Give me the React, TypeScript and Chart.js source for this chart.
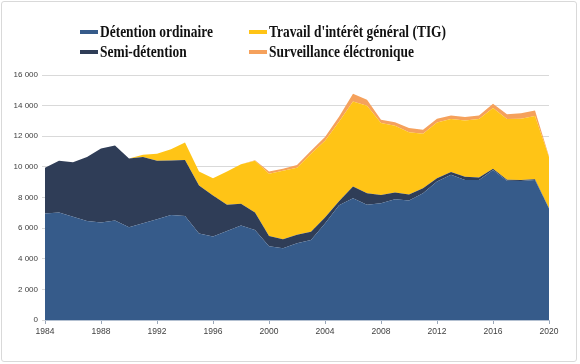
import React, { useEffect, useRef } from 'react';
import { Chart, registerables } from 'chart.js';

Chart.register(...registerables);

const years = [
  1984, 1985, 1986, 1987, 1988, 1989, 1990, 1991, 1992, 1993, 1994, 1995, 1996,
  1997, 1998, 1999, 2000, 2001, 2002, 2003, 2004, 2005, 2006, 2007, 2008, 2009,
  2010, 2011, 2012, 2013, 2014, 2015, 2016, 2017, 2018, 2019, 2020,
];

const detentionOrdinaire = [
  6950, 7015, 6750, 6470, 6360, 6490, 6060, 6320, 6580, 6850, 6800, 5650, 5450,
  5820, 6170, 5880, 4820, 4680, 5010, 5230, 6300, 7500, 7950, 7520, 7630, 7890,
  7800, 8280, 9040, 9480, 9150, 9150, 9800, 9100, 9080, 9150, 7280,
];

const semiDetention = [
  3000, 3390, 3550, 4180, 4840, 4910, 4490, 4330, 3820, 3570, 3650, 3130, 2680,
  1700, 1430, 1140, 670, 590, 550, 540, 400, 250, 770, 760, 540, 430,
  400, 330, 220, 180, 200, 150, 80, 60, 60, 50, 20,
];

const travailInteretGeneral = [
  0, 0, 0, 0, 0, 0, 0, 150, 450, 730, 1150, 920, 1120,
  2180, 2570, 3380, 4060, 4480, 4390, 5080, 5000, 5200, 5550, 5710, 4690, 4360,
  4060, 3550, 3640, 3460, 3680, 3820, 3960, 3960, 4000, 4130, 3350,
];

const surveillanceElectronique = [
  0, 0, 0, 0, 0, 0, 0, 0, 0, 0, 0, 0, 0,
  0, 0, 30, 150, 130, 170, 200, 250, 330, 500, 390, 210, 240,
  280, 260, 240, 230, 220, 230, 280, 320, 370, 350, 50,
];

const seriesNames = [
  'Détention ordinaire',
  'Semi-détention',
  "Travail d'intérêt général (TIG)",
  'Surveillance éléctronique',
];
const seriesColors = ['#365b8a', '#2f3d57', '#ffc416', '#f5a15c'];

const fmt = (v: number) => String(v).replace(/\B(?=(\d{3})+(?!\d))/g, ' ');

export default function App() {
  const ref = useRef<HTMLCanvasElement>(null);

  useEffect(() => {
    document.body.style.margin = '0';
    const seriesData = [
      detentionOrdinaire,
      semiDetention,
      travailInteretGeneral,
      surveillanceElectronique,
    ];
    const chart = new Chart(ref.current!, {
      type: 'line',
      data: {
        labels: years.map(String),
        datasets: seriesData.map((d, i) => ({
          label: seriesNames[i],
          data: d,
          backgroundColor: seriesColors[i],
          borderColor: seriesColors[i],
          borderWidth: 0,
          pointRadius: 0,
          fill: i === 0 ? 'origin' : '-1',
          tension: 0,
        })),
      },
      options: {
        responsive: false,
        animation: false,
        layout: { padding: { left: 0, right: 31, top: 75, bottom: 20 } },
        plugins: { legend: { display: false }, tooltip: { enabled: false } },
        scales: {
          x: {
            stacked: true,
            offset: false,
            afterFit: (s: any) => {
              s.height = 24;
            },
            border: { display: true, color: '#b3c0d1', width: 1 },
            grid: {
              drawOnChartArea: false,
              drawTicks: true,
              tickLength: 4,
              color: (ctx: any) =>
                (years[ctx.index] - 1984) % 4 === 0 ? '#9aa7b8' : 'rgba(0,0,0,0)',
            },
            ticks: {
              autoSkip: false,
              maxRotation: 0,
              padding: 3,
              color: '#404040',
              font: { family: 'Liberation Sans', size: 8.5 },
              callback: (_v: any, idx: number) =>
                (years[idx] - 1984) % 4 === 0 ? String(years[idx]) : '',
            },
          },
          y: {
            stacked: true,
            min: 0,
            max: 16000,
            afterFit: (s: any) => {
              s.width = 45;
            },
            border: { display: false },
            grid: { color: '#d9d9d9', tickLength: 3, lineWidth: 1 },
            ticks: {
              stepSize: 2000,
              padding: 4,
              color: '#404040',
              font: { family: 'Liberation Sans', size: 8 },
              callback: (v: any) => fmt(Number(v)),
            },
          },
        },
      },
    });
    return () => chart.destroy();
  }, []);

  const legendItems = [
    { i: 0, x: 80, y: 32 },
    { i: 2, x: 249, y: 32 },
    { i: 1, x: 80, y: 52 },
    { i: 3, x: 249, y: 52 },
  ];

  return (
    <div style={{ position: 'relative', width: 580, height: 364, background: '#fff', overflow: 'hidden' }}>
      <canvas
        ref={ref}
        width={580}
        height={364}
        style={{ position: 'absolute', left: 0, top: 0, width: 580, height: 364 }}
      />
      <div
        style={{
          position: 'absolute',
          left: 1,
          top: 1,
          width: 574,
          height: 359,
          border: '1px solid #d9d9d9',
          borderRadius: 3,
          pointerEvents: 'none',
        }}
      />
      {legendItems.map((it) => (
        <div
          key={it.i}
          style={{
            position: 'absolute',
            left: it.x,
            top: it.y - 10,
            height: 20,
            display: 'flex',
            alignItems: 'center',
            whiteSpace: 'nowrap',
          }}
        >
          <div style={{ width: 18, height: 4, background: seriesColors[it.i], marginRight: 2 }} />
          <span
            style={{
              fontFamily: '"Liberation Serif", "Times New Roman", serif',
              fontWeight: 'bold',
              fontSize: 16,
              lineHeight: '20px',
              color: '#111',
              display: 'inline-block',
              transform: 'scaleX(0.84)',
              transformOrigin: 'left center',
            }}
          >
            {seriesNames[it.i]}
          </span>
        </div>
      ))}
    </div>
  );
}
